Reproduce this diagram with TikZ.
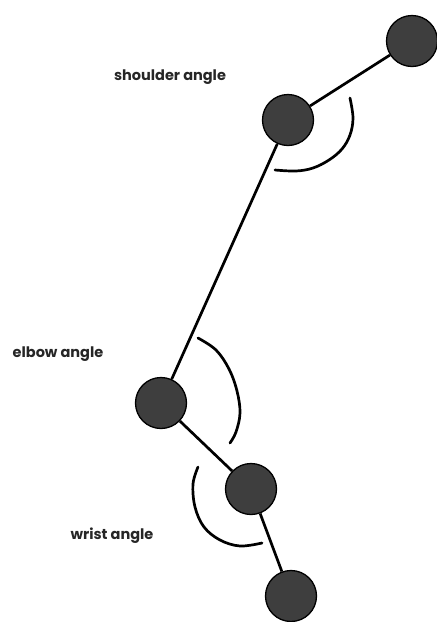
\documentclass[tikz,border=0pt]{standalone}
\usepackage{fontspec}
\setmainfont{Poppins}
\begin{document}
\begin{tikzpicture}[x=1pt,y=-1pt,
  joint/.style={circle,draw=black,line width=1.3pt,fill=jointgray,minimum size=51pt,inner sep=0pt},
  limb/.style={line width=2.7pt,black},
  anglearc/.style={line width=2.7pt,black,line cap=round},
  lbl/.style={font=\fontsize{14.5}{17}\selectfont\bfseries,text=black!85}]
\definecolor{jointgray}{HTML}{3E3E3E}
\useasboundingbox (0,0) rectangle (437,622);
\node[joint] (top) at (412,41) {};
\node[joint] (shoulder) at (288,120) {};
\node[joint] (elbow) at (161,403) {};
\node[joint] (wrist) at (251,489) {};
\node[joint] (hand) at (291,596) {};
\draw[limb] (top) -- (shoulder);
\draw[limb] (shoulder) -- (elbow);
\draw[limb] (elbow) -- (wrist);
\draw[limb] (wrist) -- (hand);
\draw[anglearc] plot[smooth,tension=0.6] coordinates {(350,98) (353,118) (350,135) (342,149) (329,160) (313,168) (296,171) (275,170)};
\draw[anglearc] plot[smooth,tension=0.6] coordinates {(198,338) (216,350) (229,369) (237,391) (240,413) (236,432) (230,443)};
\draw[anglearc] plot[smooth,tension=0.6] coordinates {(198,467) (193,484) (195,507) (204,527) (220,540) (240,546) (262,543)};
\node[lbl] (ls) at (170,77) {shoulder angle};
\node[lbl] (le) at (58,354) {elbow angle};
\node[lbl] (lw) at (112,536) {wrist angle};
\end{tikzpicture}
\end{document}
